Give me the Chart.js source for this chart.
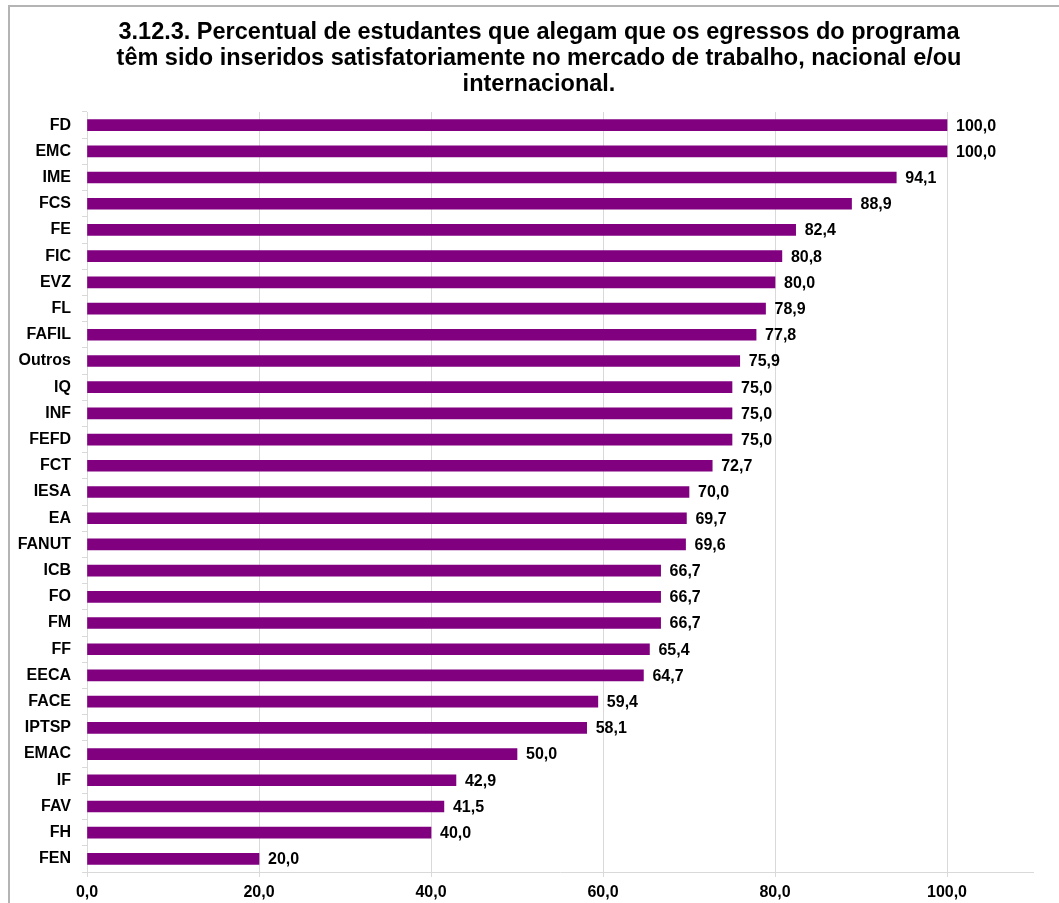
<!DOCTYPE html>
<html>
<head>
<meta charset="utf-8">
<script src="https://cdn.jsdelivr.net/npm/chart.js@4"></script>
<style>
    html, body { margin: 0; padding: 0; background: #fff; }
    #wrap { position: relative; width: 1059px; height: 903px; overflow: hidden; }
    #frame {
        position: absolute; left: 8px; top: 5px; width: 1100px; height: 950px;
        border-top: 2px solid #b4b4b4; border-left: 2px solid #b4b4b4;
    }
    canvas { position: absolute; left: 0; top: 0; }
</style>
</head>
<body>
<div id="wrap">
    <div id="frame"></div>
    <canvas id="egressosChart" width="1059" height="903"></canvas>
</div>
<script>
// Unidades acadêmicas e percentuais
const unidades = ['FD', 'EMC', 'IME', 'FCS', 'FE', 'FIC', 'EVZ', 'FL', 'FAFIL', 'Outros',
    'IQ', 'INF', 'FEFD', 'FCT', 'IESA', 'EA', 'FANUT', 'ICB', 'FO', 'FM',
    'FF', 'EECA', 'FACE', 'IPTSP', 'EMAC', 'IF', 'FAV', 'FH', 'FEN'];
const percentuais = [100.0, 100.0, 94.1, 88.9, 82.4, 80.8, 80.0, 78.9, 77.8, 75.9,
    75.0, 75.0, 75.0, 72.7, 70.0, 69.7, 69.6, 66.7, 66.7, 66.7,
    65.4, 64.7, 59.4, 58.1, 50.0, 42.9, 41.5, 40.0, 20.0];
const eixoX = [0, 20, 40, 60, 80, 100];

const titulo = [
    '3.12.3. Percentual de estudantes que alegam que os egressos do programa',
    'têm sido inseridos satisfatoriamente no mercado de trabalho, nacional e/ou',
    'internacional.'
];

const fonte = 'Liberation Sans, Arial, sans-serif';

// Formata número com vírgula decimal
function formatar(v) {
    return v.toFixed(1).replace('.', ',');
}

// Título centralizado na moldura do gráfico
const tituloGrafico = {
    id: 'tituloGrafico',
    afterDraw(chart) {
        const ctx = chart.ctx;
        ctx.save();
        ctx.font = 'bold 23.5px ' + fonte;
        ctx.fillStyle = '#000';
        ctx.textAlign = 'center';
        ctx.textBaseline = 'alphabetic';
        titulo.forEach((linha, i) => {
            ctx.fillText(linha, 539, 38.5 + i * 26.2);
        });
        ctx.restore();
    }
};

// Rótulos de valor à direita das barras
const rotulosValor = {
    id: 'rotulosValor',
    afterDatasetsDraw(chart) {
        const ctx = chart.ctx;
        const meta = chart.getDatasetMeta(0);
        ctx.save();
        ctx.font = 'bold 16px ' + fonte;
        ctx.fillStyle = '#000';
        ctx.textAlign = 'left';
        ctx.textBaseline = 'middle';
        meta.data.forEach((bar, i) => {
            ctx.fillText(formatar(percentuais[i]), bar.x + 9, bar.y + 1);
        });
        ctx.restore();
    }
};

const ctx = document.getElementById('egressosChart').getContext('2d');
const egressosChart = new Chart(ctx, {
    type: 'bar',
    data: {
        labels: unidades,
        datasets: [{
            data: percentuais,
            backgroundColor: '#800080',
            borderWidth: 0,
            barThickness: 11
        }]
    },
    options: {
        indexAxis: 'y',
        responsive: false,
        animation: false,
        layout: {
            padding: { top: 112, right: 26, bottom: 0, left: 0 }
        },
        plugins: {
            legend: { display: false },
            tooltip: { enabled: false },
            title: { display: false }
        },
        scales: {
            x: {
                min: 0,
                max: 110,
                afterBuildTicks: scale => {
                    scale.ticks = eixoX.map(v => ({ value: v }));
                },
                afterFit: scale => { scale.height = 31; },
                ticks: {
                    color: '#000',
                    padding: 6,
                    maxRotation: 0,
                    font: { family: fonte, size: 16, weight: 'bold' },
                    callback: v => formatar(v)
                },
                grid: { color: '#d9d9d9', lineWidth: 1, tickLength: 5 },
                border: { color: '#d9d9d9' }
            },
            y: {
                afterFit: scale => { scale.width = 87; },
                ticks: {
                    color: '#000',
                    padding: 11,
                    font: { family: fonte, size: 16, weight: 'bold' }
                },
                grid: { drawOnChartArea: false, offset: true, color: '#d9d9d9', tickLength: 5 },
                border: { color: '#d9d9d9' }
            }
        }
    },
    plugins: [rotulosValor, tituloGrafico]
});
</script>
</body>
</html>
